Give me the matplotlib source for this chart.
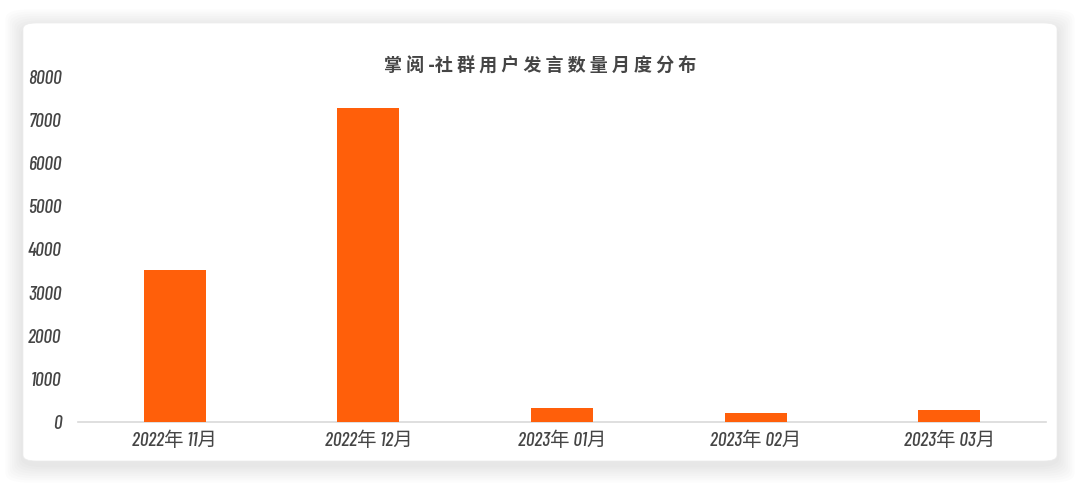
import matplotlib.pyplot as plt
from matplotlib.patches import FancyBboxPatch

# data
months = ['2022年 11月', '2022年 12月', '2023年 01月', '2023年 02月', '2023年 03月']
counts = [3525, 7285, 325, 220, 278]
title = '掌 阅 -社 群 用 户 发 言 数 量 月 度 分 布'

fam = ['Barlow Condensed', 'Noto Sans CJK SC', 'DejaVu Sans']
plt.rcParams['font.family'] = fam
txt_color = '#454545'

fig = plt.figure(figsize=(10.8, 4.84), dpi=100)
fig.patch.set_facecolor('white')

# soft shadow + card
W, H = 1080, 484
for i in range(8):
    pad = (8 - i) * 2.2
    sh = FancyBboxPatch(((23 - pad) / W, (23 - pad - 4) / H),
                        (1034 + 2 * pad) / W, (438 + 2 * pad) / H,
                        boxstyle='round,pad=0,rounding_size=0.02',
                        transform=fig.transFigure, fc='black', ec='none',
                        alpha=0.012, zorder=0)
    fig.patches.append(sh)
card = FancyBboxPatch((23 / W, 23 / H), 1034 / W, 438 / H,
                      boxstyle='round,pad=0,rounding_size=0.012',
                      transform=fig.transFigure, fc='white', ec='#ececec',
                      lw=0.5, zorder=1)
fig.patches.append(card)

ax = fig.add_axes([78 / W, 62 / H, 968 / W, 345 / H])
ax.set_facecolor('none')
ax.set_zorder(2)

x = range(len(months))
ax.bar(x, counts, width=0.32, color='#FF5F0A', zorder=3)

ax.set_xlim(-0.5, len(months) - 0.5)
ax.set_ylim(0, 8000)
ax.set_yticks(range(0, 8001, 1000))
ax.set_xticks(list(x))
ax.set_xticklabels(months)

for s in ['top', 'right', 'left']:
    ax.spines[s].set_visible(False)
ax.spines['bottom'].set_color('#d9d9d9')
ax.spines['bottom'].set_linewidth(1.2)
ax.tick_params(axis='both', length=0, colors=txt_color, labelsize=14)
ax.tick_params(axis='x', pad=7)
ax.tick_params(axis='y', pad=12)
for lab in ax.get_xticklabels() + ax.get_yticklabels():
    lab.set_fontstyle('italic')
    lab.set_fontweight(500)

fig.text(540 / W, 1 - 66 / H, title, ha='center', va='center',
         fontsize=13, color=txt_color, fontweight='bold',
         family=['Noto Sans CJK SC', 'DejaVu Sans'])

fig.savefig('out.png', dpi=100)
